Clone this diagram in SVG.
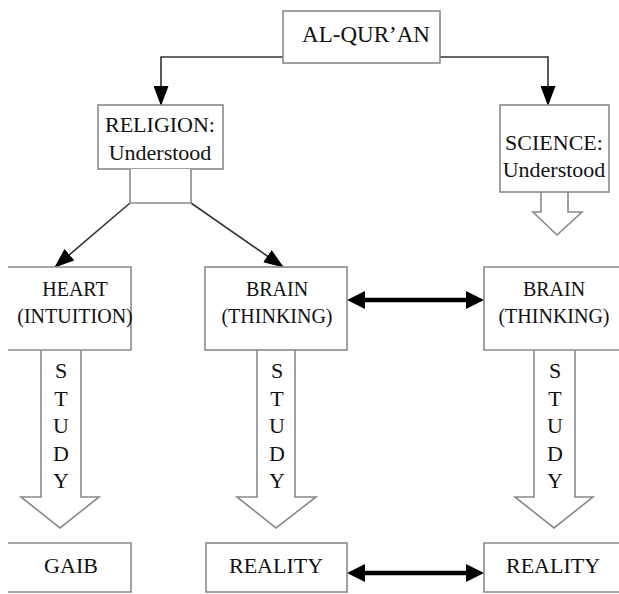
<svg xmlns="http://www.w3.org/2000/svg" width="619" height="594" viewBox="0 0 619 594" font-family="'Liberation Serif', 'DejaVu Serif', serif">
<style>
.box{fill:#fff;stroke:#8a8a8a;stroke-width:1.6}
text{font-family:"Liberation Serif","DejaVu Serif",serif;fill:#111;text-anchor:middle}
.big{font-size:23px}
.mid{font-size:22px}
.sm{font-size:20px}
.con{fill:none;stroke:#333;stroke-width:1.6}
.dbl{fill:none;stroke:#000;stroke-width:4.5}
.hollow{fill:#fff;stroke:#8a8a8a;stroke-width:1.6;stroke-linejoin:miter}
</style>
<defs>
<marker id="ah" viewBox="0 0 20 15" refX="19" refY="7.5" markerWidth="20" markerHeight="15" markerUnits="userSpaceOnUse" orient="auto">
<path d="M0,0 L20,7.5 L0,15 z" fill="#000"/>
</marker>
<marker id="dh" viewBox="0 0 18 18" refX="8" refY="9" markerWidth="18" markerHeight="18" markerUnits="userSpaceOnUse" orient="auto-start-reverse">
<path d="M0,0 L18,9 L0,18 z" fill="#000"/>
</marker>
</defs>
<rect width="619" height="594" fill="#fff"/>

<g id="connectors">
<path class="con" d="M283,57 H161 V105" marker-end="url(#ah)"/>
<path class="con" d="M440,57 H548 V105" marker-end="url(#ah)"/>
<line class="con" x1="130" y1="203" x2="55" y2="267" marker-end="url(#ah)"/>
<line class="con" x1="191" y1="203" x2="283" y2="267" marker-end="url(#ah)"/>
<line class="dbl" x1="357" y1="300" x2="474" y2="300" marker-start="url(#dh)" marker-end="url(#dh)"/>
<line class="dbl" x1="357" y1="573" x2="474" y2="573" marker-start="url(#dh)" marker-end="url(#dh)"/>
<path class="hollow" d="M541,192 V212 H533 L557,235 L582,212 H568 V192"/>
<g id="study-heart">
<path class="hollow" d="M41,350 V497 H21 L60,528 L99,497 H81 V350"/>
<text class="mid" x="61" y="378">S</text>
<text class="mid" x="61" y="405.5">T</text>
<text class="mid" x="61" y="433">U</text>
<text class="mid" x="61" y="460.5">D</text>
<text class="mid" x="61" y="488">Y</text>
</g>
<g id="study-brain-left">
<path class="hollow" d="M257,350 V497 H237 L276,528 L316,497 H295 V350"/>
<text class="mid" x="277" y="378">S</text>
<text class="mid" x="277" y="405.5">T</text>
<text class="mid" x="277" y="433">U</text>
<text class="mid" x="277" y="460.5">D</text>
<text class="mid" x="277" y="488">Y</text>
</g>
<g id="study-brain-right">
<path class="hollow" d="M534,350 V497 H515 L554,528 L593,497 H575 V350"/>
<text class="mid" x="555" y="378">S</text>
<text class="mid" x="555" y="405.5">T</text>
<text class="mid" x="555" y="433">U</text>
<text class="mid" x="555" y="460.5">D</text>
<text class="mid" x="555" y="488">Y</text>
</g>
</g>

<g id="alquran">
<rect class="box" x="283" y="11" width="157" height="52"/>
<text class="big" x="366" y="42">AL-QUR’AN</text>
</g>

<g id="religion">
<rect class="box" x="98" y="105" width="125" height="64"/>
<path class="box" d="M130,169 V203 H191 V169"/>
<text class="mid" x="160" y="132">RELIGION:</text>
<text class="mid" x="160" y="160">Understood</text>
</g>

<g id="science">
<rect class="box" x="500" y="105" width="109" height="87"/>
<text class="mid" x="554" y="150">SCIENCE:</text>
<text class="mid" x="554" y="177">Understood</text>
</g>

<g id="heart">
<path class="box" d="M8,267 H131 V350 H8"/>
<text class="sm" x="75" y="296">HEART</text>
<text class="sm" x="75" y="323">(INTUITION)</text>
</g>

<g id="brain-left">
<rect class="box" x="205" y="267" width="142" height="83"/>
<text class="sm" x="277" y="296">BRAIN</text>
<text class="sm" x="277" y="323">(THINKING)</text>
</g>

<g id="brain-right">
<path class="box" d="M620,267 H484 V350 H620"/>
<text class="sm" x="554" y="296">BRAIN</text>
<text class="sm" x="554" y="323">(THINKING)</text>
</g>

<g id="gaib">
<path class="box" d="M8,543 H131 V592 H8"/>
<text class="mid" x="71" y="573">GAIB</text>
</g>

<g id="reality-left">
<rect class="box" x="206" y="543" width="141" height="49"/>
<text class="mid" x="276" y="573">REALITY</text>
</g>

<g id="reality-right">
<path class="box" d="M620,543 H484 V592 H620"/>
<text class="mid" x="553" y="573">REALITY</text>
</g>
</svg>
